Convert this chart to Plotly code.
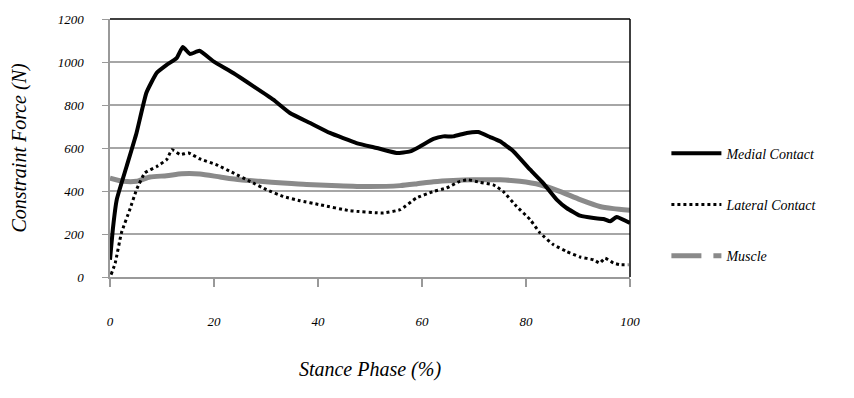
import plotly.graph_objects as go

# ---- data ----
medial_x = [0, 0.6, 1.3, 3.2, 5.1, 7.0, 9.0, 10.9, 12.8, 14.0, 15.4, 17.2, 19.9, 23.7, 27.6, 31.4, 34.6, 38.5,
            42.3, 47.4, 51.3, 55.1, 57.7, 59.6, 62.2, 64.1, 66.0, 68.6, 70.8, 73.1, 75.0, 77.6, 80.8, 83.3,
            85.9, 87.8, 90.4, 93.0, 94.9, 96.2, 97.4, 100]
medial_y = [80, 234, 360, 515, 670, 857, 950, 987, 1018, 1070, 1037, 1052, 1003, 949, 887, 825, 763, 716,
            670, 623, 600, 577, 584, 607, 642, 654, 654, 670, 674, 651, 631, 584, 499, 437,
            360, 321, 285, 274, 270, 259, 279, 251]

lateral_x = [0.2, 1.0, 2.2, 3.8, 5.1, 6.7, 9.0, 10.9, 11.9, 13.5, 15.1, 17.3, 20.5, 23.7, 26.9, 30.1, 33.3,
             36.5, 40.4, 46.2, 52.6, 55.8, 58.9, 62.2, 64.7, 67.3, 68.9, 71.2, 73.7, 75.6, 78.2, 80.8,
             82.7, 85.3, 87.8, 90.4, 93.0, 94.2, 95.2, 96.8, 98.1, 99.7]
lateral_y = [11, 65, 205, 313, 406, 484, 514, 546, 592, 569, 577, 549, 522, 484, 445, 406, 375,
             355, 336, 308, 298, 313, 367, 398, 414, 445, 452, 440, 429, 398, 328, 267,
             205, 150, 119, 93, 80, 65, 88, 65, 57, 57]

muscle_x = [0, 2.6, 5.1, 7.7, 10.9, 13.8, 17.3, 21.2, 25.0, 28.8, 33.3, 37.8, 42.6, 49.4, 55.8, 58.9,
            62.2, 66.0, 69.9, 75.0, 78.8, 82.7, 86.5, 90.4, 94.2, 96.8, 100]
muscle_y = [460, 445, 445, 465, 471, 480, 479, 465, 452, 445, 437, 430, 426, 421, 425, 433,
            443, 449, 452, 452, 445, 429, 398, 360, 328, 318, 310]

x_ticks = [0, 20, 40, 60, 80, 100]
y_ticks = [0, 200, 400, 600, 800, 1000, 1200]

FONT = "Liberation Serif"

fig = go.Figure()
fig.add_trace(go.Scatter(x=muscle_x, y=muscle_y, mode="lines", name="Muscle", showlegend=False,
                         line=dict(color="#8a8a8a", width=5, shape="spline", smoothing=0.6)))
fig.add_trace(go.Scatter(x=lateral_x, y=lateral_y, mode="lines", name="Lateral Contact", showlegend=False,
                         line=dict(color="black", width=3, dash="3px,3px", shape="spline", smoothing=0.4)))
fig.add_trace(go.Scatter(x=medial_x, y=medial_y, mode="lines", name="Medial Contact", showlegend=False,
                         line=dict(color="black", width=4, shape="spline", smoothing=0.4)))

# legend entries
fig.add_trace(go.Scatter(x=[None], y=[None], mode="lines", name="Medial Contact", legendgroup="a",
                         line=dict(color="black", width=4)))
fig.add_trace(go.Scatter(x=[None], y=[None], mode="lines", name="Lateral Contact", legendgroup="b",
                         line=dict(color="black", width=3, dash="3px,3px")))
fig.add_trace(go.Scatter(x=[None], y=[None], mode="lines", name="Muscle", legendgroup="c",
                         line=dict(color="#8a8a8a", width=5, dash="30px,12px")))

fig.update_layout(
    width=846, height=390,
    margin=dict(l=102, r=224, t=11, b=121, autoexpand=False),
    paper_bgcolor="white", plot_bgcolor="white",
    font=dict(family=FONT, color="black", style="italic"),
    showlegend=True,
    legend=dict(x=1.07, y=0.28, yanchor="middle", xanchor="left",
                font=dict(size=14, family=FONT, style="italic", color="black"),
                itemwidth=50, tracegroupgap=30, bgcolor="rgba(0,0,0,0)"),
    xaxis=dict(range=[0, 100], tickvals=x_ticks, ticktext=[str(v) for v in x_ticks], automargin=False,
               showgrid=False, zeroline=False, showline=True, linecolor="#999999", linewidth=1.5,
               ticks="outside", ticklen=8, tickcolor="#999999", tickwidth=1.5,
               ticklabelstandoff=24, tickfont=dict(size=13, family=FONT, style="italic", color="black"),
               title=dict(text="Stance Phase (%)", font=dict(size=20, family=FONT, style="italic"),
                          standoff=34)),
    yaxis=dict(range=[0, 1200], tickvals=y_ticks, ticktext=[str(v) for v in y_ticks], automargin=False,
               showgrid=True, gridcolor="#a6a6a6", gridwidth=1.5, zeroline=False,
               showline=True, linecolor="#999999", linewidth=1.5,
               ticks="outside", ticklen=6, tickcolor="#999999",
               ticklabelstandoff=16, tickfont=dict(size=13, family=FONT, style="italic", color="black"),
               title=dict(text="Constraint Force (N)", font=dict(size=20, family=FONT, style="italic"),
                          standoff=30)),
    shapes=[
        dict(type="line", xref="paper", yref="paper", x0=0, x1=1, y0=1, y1=1,
             line=dict(color="black", width=1.5)),
        dict(type="line", xref="paper", yref="paper", x0=1, x1=1, y0=0, y1=1,
             line=dict(color="black", width=1.5)),
    ],
)

fig.write_html("out.html")
